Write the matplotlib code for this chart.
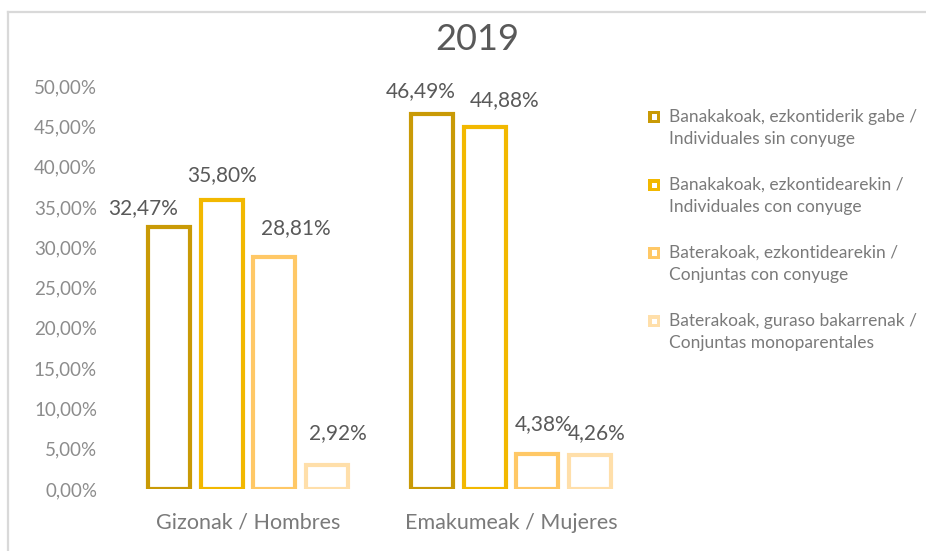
import matplotlib
matplotlib.use("Agg")
import matplotlib.pyplot as plt
from matplotlib.patches import Rectangle
from matplotlib.lines import Line2D
import numpy as np

categories = ["Gizonak / Hombres", "Emakumeak / Mujeres"]
series_names = [
    "Banakakoak, ezkontiderik gabe /\nIndividuales sin conyuge",
    "Banakakoak, ezkontidearekin /\nIndividuales con conyuge",
    "Baterakoak, ezkontidearekin /\nConjuntas con conyuge",
    "Baterakoak, guraso bakarrenak /\nConjuntas monoparentales",
]
values = [
    [32.47, 46.49],
    [35.80, 44.88],
    [28.81, 4.38],
    [2.92, 4.26],
]
colors = ["#C99A06", "#F2B800", "#FFC866", "#FFDFAA"]
yticks = [0, 5, 10, 15, 20, 25, 30, 35, 40, 45, 50]
title = "2019"

# label offsets in pixels (dx, dy) relative to bar top center
label_offsets = [
    [(-26, 19), (-11, 23)],
    [(0, 25), (20, 27)],
    [(22, 29), (6, 30)],
    [(11, 32), (7, 22)],
]

plt.rcParams['font.family'] = ['Lato', 'DejaVu Sans']

W, H = 926, 551
fig = plt.figure(figsize=(W / 100, H / 100), dpi=100)
ax = fig.add_axes([116.5 / W, (H - 489) / H, 526 / W, 403 / H])

x = np.arange(len(categories))
step = 0.2
width = 0.16
for i, (vals, col) in enumerate(zip(values, colors)):
    pos = x + (i - 1.5) * step
    ax.bar(pos, vals, width=width, facecolor="white", edgecolor=col,
           linewidth=3.0, zorder=3)
    for j, (p, v) in enumerate(zip(pos, vals)):
        dx, dy = label_offsets[i][j]
        ax.annotate(f"{v:.2f}%".replace(".", ","), xy=(p, v),
                    xytext=(dx * 0.72, dy * 0.72), textcoords="offset points",
                    ha="center", va="center", fontsize=15, color="#595959")

ax.set_xlim(-0.5, 1.5)
ax.set_ylim(0, 50)
ax.set_yticks(yticks)
ax.set_yticklabels([f"{t:.2f}%".replace(".", ",") for t in yticks],
                   fontsize=13.5, color="#8C8C8C")
ax.set_xticks(x)
ax.set_xticklabels(categories, fontsize=15.5, color="#7A7A7A")
ax.tick_params(axis="both", length=0)
ax.tick_params(axis="y", pad=14)
ax.tick_params(axis="x", pad=17)
for s in ax.spines.values():
    s.set_visible(False)

fig.text(477 / W, 1 - 40 / H, title, ha="center", va="center",
         fontsize=26, color="#595959")

# frame
fig.add_artist(Line2D([8 / W, 8 / W], [0, 1 - 12 / H], color="#D9D9D9",
                      lw=1.6, transform=fig.transFigure))
fig.add_artist(Line2D([8 / W, 1], [1 - 12 / H, 1 - 12 / H], color="#D9D9D9",
                      lw=1.6, transform=fig.transFigure))

# legend
for k, (name, col) in enumerate(zip(series_names, colors)):
    yc = 117 + 68 * k
    fig.add_artist(Rectangle((648 / W, 1 - (yc + 6) / H), 12 / W, 12 / H,
                             facecolor=col, edgecolor="none",
                             transform=fig.transFigure))
    fig.add_artist(Rectangle((651.5 / W, 1 - (yc + 2.5) / H), 5 / W, 5 / H,
                             facecolor="white", edgecolor="none",
                             transform=fig.transFigure))
    fig.text(669 / W, 1 - (yc + 11) / H, name, ha="left", va="center",
             fontsize=12.5, color="#7A7A7A", linespacing=1.5)

fig.savefig("out.png", dpi=100)
